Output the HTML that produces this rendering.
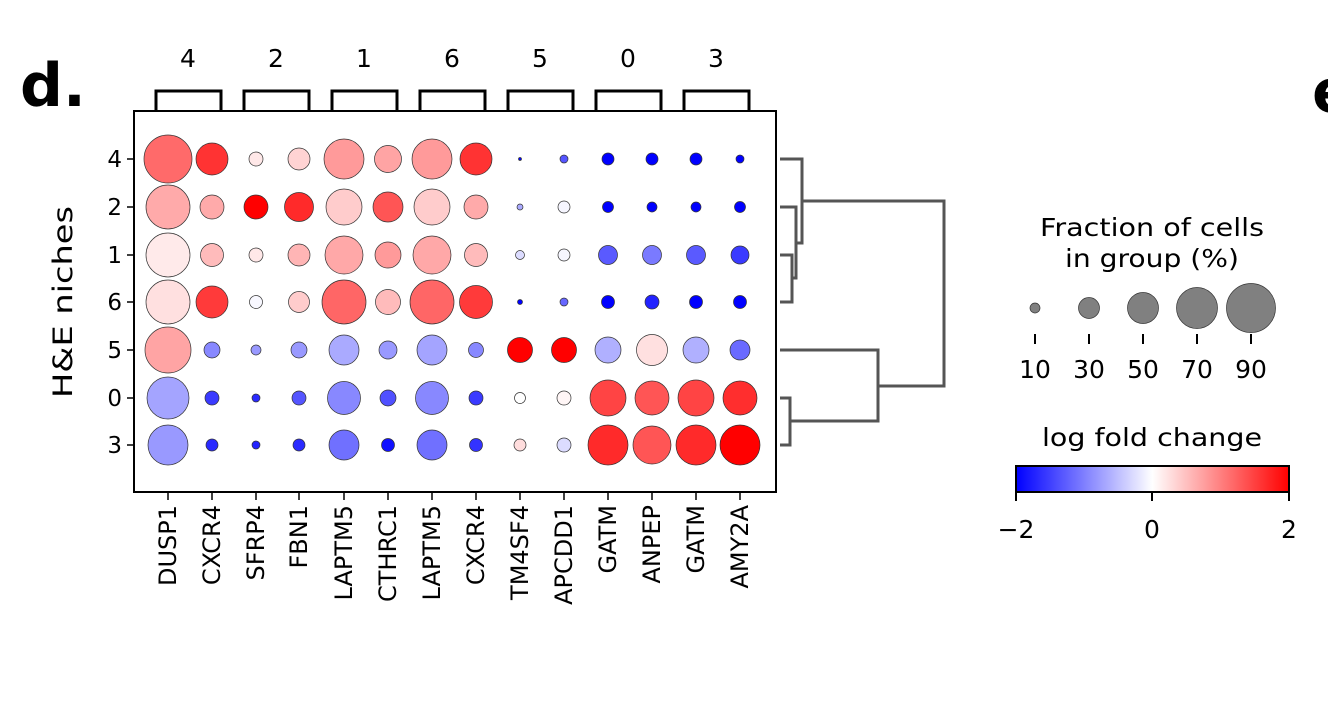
<!DOCTYPE html>
<html><head><style>body{margin:0;background:#fff}svg{display:block}text{font-family:"DejaVu Sans","Liberation Sans",sans-serif}</style></head>
<body>
<svg width="1328" height="713" viewBox="0 0 1328 713" xmlns="http://www.w3.org/2000/svg">
<defs><linearGradient id="cb" x1="0" x2="1"><stop offset="0" stop-color="#0000ff"/><stop offset="0.5" stop-color="#ffffff"/><stop offset="1" stop-color="#ff0000"/></linearGradient></defs>
<text x="20" y="106" font-size="60" font-weight="bold" font-family="Liberation Sans">d.</text>
<text x="1312" y="112" font-size="60" font-weight="bold" font-family="Liberation Sans">e.</text>
<g font-size="25" text-anchor="middle">
<text x="188" y="67">4</text><text x="276" y="67">2</text><text x="364" y="67">1</text><text x="452" y="67">6</text><text x="540" y="67">5</text><text x="628" y="67">0</text><text x="716" y="67">3</text></g>
<g fill="none" stroke="#000" stroke-width="3">
<path d="M156 110V91H221V110"/><path d="M244 110V91H309V110"/><path d="M332 110V91H397V110"/><path d="M420 110V91H485V110"/><path d="M508 110V91H573V110"/><path d="M596 110V91H661V110"/><path d="M684 110V91H749V110"/></g>
<rect x="134" y="111" width="642" height="381" fill="none" stroke="#000" stroke-width="2"/>
<g font-size="23" text-anchor="end">
<text x="122" y="167">4</text><text x="122" y="215">2</text><text x="122" y="263">1</text><text x="122" y="310">6</text><text x="122" y="358">5</text><text x="122" y="406">0</text><text x="122" y="453">3</text></g>
<g stroke="#000" stroke-width="1.5"><path d="M134 159h-7M134 207h-7M134 255h-7M134 302h-7M134 350h-7M134 398h-7M134 445h-7"/>
<path d="M168 492v8M212 492v8M256 492v8M299 492v8M344 492v8M388 492v8M432 492v8M476 492v8M520 492v8M564 492v8M608 492v8M652 492v8M696 492v8M740 492v8"/></g>
<text transform="translate(72,302) rotate(-90)" font-size="27" text-anchor="middle" textLength="192" lengthAdjust="spacingAndGlyphs">H&amp;E niches</text>
<g font-size="24" text-anchor="end">
<text transform="translate(176,505) rotate(-90)">DUSP1</text>
<text transform="translate(220,505) rotate(-90)">CXCR4</text>
<text transform="translate(264,505) rotate(-90)">SFRP4</text>
<text transform="translate(307,505) rotate(-90)">FBN1</text>
<text transform="translate(352,505) rotate(-90)">LAPTM5</text>
<text transform="translate(396,505) rotate(-90)">CTHRC1</text>
<text transform="translate(440,505) rotate(-90)">LAPTM5</text>
<text transform="translate(484,505) rotate(-90)">CXCR4</text>
<text transform="translate(528,505) rotate(-90)">TM4SF4</text>
<text transform="translate(572,505) rotate(-90)">APCDD1</text>
<text transform="translate(616,505) rotate(-90)">GATM</text>
<text transform="translate(660,505) rotate(-90)">ANPEP</text>
<text transform="translate(704,505) rotate(-90)">GATM</text>
<text transform="translate(748,505) rotate(-90)">AMY2A</text></g>
<g stroke="#333" stroke-width="0.7">
<circle cx="168" cy="159" r="24" fill="#ff6a6a"/><circle cx="212" cy="159" r="16" fill="#ff3333"/><circle cx="256" cy="159" r="7" fill="#ffe8e8"/><circle cx="299" cy="159" r="11" fill="#ffd3d3"/><circle cx="344" cy="159" r="20" fill="#ff9a9a"/><circle cx="388" cy="159" r="13.5" fill="#ffa4a4"/><circle cx="432" cy="159" r="20" fill="#ff9a9a"/><circle cx="476" cy="159" r="16" fill="#ff3333"/><circle cx="520" cy="159" r="1.5" fill="#0000ff"/><circle cx="564" cy="159" r="4" fill="#5555ff"/><circle cx="608" cy="159" r="6" fill="#0000ff"/><circle cx="652" cy="159" r="6" fill="#0000ff"/><circle cx="696" cy="159" r="6" fill="#0000ff"/><circle cx="740" cy="159" r="4" fill="#0000ff"/>
<circle cx="168" cy="207" r="22" fill="#ffaaaa"/><circle cx="212" cy="207" r="12" fill="#ffaaaa"/><circle cx="256" cy="207" r="12" fill="#ff0000"/><circle cx="299" cy="207" r="14.5" fill="#ff2a2a"/><circle cx="344" cy="207" r="18" fill="#ffcccc"/><circle cx="388" cy="207" r="15" fill="#ff5555"/><circle cx="432" cy="207" r="18" fill="#ffcccc"/><circle cx="476" cy="207" r="12" fill="#ffaaaa"/><circle cx="520" cy="207" r="3" fill="#aaaaff"/><circle cx="564" cy="207" r="6" fill="#f6f6ff"/><circle cx="608" cy="207" r="5.5" fill="#0000ff"/><circle cx="652" cy="207" r="5" fill="#0000ff"/><circle cx="696" cy="207" r="5" fill="#0000ff"/><circle cx="740" cy="207" r="5.5" fill="#0000ff"/>
<circle cx="168" cy="255" r="22" fill="#ffeaea"/><circle cx="212" cy="255" r="11.5" fill="#ffbbbb"/><circle cx="256" cy="255" r="7" fill="#ffe8e8"/><circle cx="299" cy="255" r="11" fill="#ffb5b5"/><circle cx="344" cy="255" r="19" fill="#ffa8a8"/><circle cx="388" cy="255" r="13" fill="#ff9a9a"/><circle cx="432" cy="255" r="19" fill="#ffa8a8"/><circle cx="476" cy="255" r="11.5" fill="#ffbbbb"/><circle cx="520" cy="255" r="4.5" fill="#dcdcff"/><circle cx="564" cy="255" r="6" fill="#f6f6ff"/><circle cx="608" cy="255" r="9.5" fill="#5a5aff"/><circle cx="652" cy="255" r="9.5" fill="#7a7aff"/><circle cx="696" cy="255" r="9.5" fill="#5a5aff"/><circle cx="740" cy="255" r="9" fill="#3a3aff"/>
<circle cx="168" cy="302" r="22" fill="#ffe0e0"/><circle cx="212" cy="302" r="16" fill="#ff3a3a"/><circle cx="256" cy="302" r="6.5" fill="#f8f8ff"/><circle cx="299" cy="302" r="10.5" fill="#ffcccc"/><circle cx="344" cy="302" r="22" fill="#ff6666"/><circle cx="388" cy="302" r="12.5" fill="#ffbbbb"/><circle cx="432" cy="302" r="22" fill="#ff6666"/><circle cx="476" cy="302" r="16.5" fill="#ff3a3a"/><circle cx="520" cy="302" r="2.5" fill="#0000ff"/><circle cx="564" cy="302" r="4" fill="#6666ff"/><circle cx="608" cy="302" r="6.5" fill="#0000ff"/><circle cx="652" cy="302" r="7" fill="#2222ff"/><circle cx="696" cy="302" r="6.5" fill="#0000ff"/><circle cx="740" cy="302" r="6.5" fill="#0000ff"/>
<circle cx="168" cy="350" r="23" fill="#ffa4a4"/><circle cx="212" cy="350" r="8" fill="#8888ff"/><circle cx="256" cy="350" r="5" fill="#9999ff"/><circle cx="299" cy="350" r="8" fill="#9999ff"/><circle cx="344" cy="350" r="15" fill="#aaaaff"/><circle cx="388" cy="350" r="9" fill="#9999ff"/><circle cx="432" cy="350" r="15" fill="#a4a4ff"/><circle cx="476" cy="350" r="7.5" fill="#8888ff"/><circle cx="520" cy="350" r="12.5" fill="#ff0000"/><circle cx="564" cy="350" r="12.5" fill="#ff0000"/><circle cx="608" cy="350" r="13" fill="#b0b0ff"/><circle cx="652" cy="350" r="15.5" fill="#ffe0e0"/><circle cx="696" cy="350" r="13" fill="#b0b0ff"/><circle cx="740" cy="350" r="10" fill="#6a6aff"/>
<circle cx="168" cy="398" r="21" fill="#a4a4ff"/><circle cx="212" cy="398" r="7" fill="#3a3aff"/><circle cx="256" cy="398" r="4" fill="#2a2aff"/><circle cx="299" cy="398" r="7" fill="#5555ff"/><circle cx="344" cy="398" r="16.5" fill="#8888ff"/><circle cx="388" cy="398" r="8" fill="#5050ff"/><circle cx="432" cy="398" r="16.5" fill="#8888ff"/><circle cx="476" cy="398" r="7" fill="#3a3aff"/><circle cx="520" cy="398" r="5.5" fill="#ffffff"/><circle cx="564" cy="398" r="7" fill="#fff6f6"/><circle cx="608" cy="398" r="18" fill="#ff4444"/><circle cx="652" cy="398" r="17" fill="#ff5555"/><circle cx="696" cy="398" r="18" fill="#ff4444"/><circle cx="740" cy="398" r="17" fill="#ff2e2e"/>
<circle cx="168" cy="445" r="20" fill="#9999ff"/><circle cx="212" cy="445" r="6" fill="#2a2aff"/><circle cx="256" cy="445" r="4" fill="#2222ff"/><circle cx="299" cy="445" r="6" fill="#2a2aff"/><circle cx="344" cy="445" r="15" fill="#7070ff"/><circle cx="388" cy="445" r="6.5" fill="#1111ff"/><circle cx="432" cy="445" r="15" fill="#7070ff"/><circle cx="476" cy="445" r="6.5" fill="#3333ff"/><circle cx="520" cy="445" r="6" fill="#ffdddd"/><circle cx="564" cy="445" r="7" fill="#dcdcff"/><circle cx="608" cy="445" r="20" fill="#ff2a2a"/><circle cx="652" cy="445" r="19" fill="#ff5555"/><circle cx="696" cy="445" r="20" fill="#ff2a2a"/><circle cx="740" cy="445" r="20" fill="#ff0000"/>
</g>
<g fill="none" stroke="#555" stroke-width="3">
<path d="M780 255H792V302H780"/><path d="M780 207H796V278H792"/><path d="M780 159H802V243H796"/>
<path d="M780 398H790V445H780"/><path d="M780 350H878V421H790"/><path d="M802 201H944V386H878"/></g>
<g font-size="25" text-anchor="middle"><text x="1152" y="236" textLength="224" lengthAdjust="spacingAndGlyphs">Fraction of cells</text><text x="1152" y="267" textLength="174" lengthAdjust="spacingAndGlyphs">in group (%)</text></g>
<g fill="#808080" stroke="#333" stroke-width="0.7">
<circle cx="1035" cy="308" r="5"/><circle cx="1089" cy="308" r="10.5"/><circle cx="1143" cy="308" r="15.5"/><circle cx="1197" cy="308" r="20.5"/><circle cx="1251" cy="308" r="24.5"/></g>
<g stroke="#000" stroke-width="2"><path d="M1035 334v10M1089 334v10M1143 334v10M1197 334v10M1251 334v10"/></g>
<g font-size="25" text-anchor="middle"><text x="1035" y="378">10</text><text x="1089" y="378">30</text><text x="1143" y="378">50</text><text x="1197" y="378">70</text><text x="1251" y="378">90</text>
<text x="1152" y="446" textLength="220" lengthAdjust="spacingAndGlyphs">log fold change</text>
<text x="1016" y="538">−2</text><text x="1152" y="538">0</text><text x="1289" y="538">2</text></g>
<rect x="1016" y="466" width="273" height="26" fill="url(#cb)" stroke="#000" stroke-width="2"/>
<g stroke="#000" stroke-width="2"><path d="M1016 492v9M1152 492v9M1289 492v9"/></g>
</svg>
</body></html>
